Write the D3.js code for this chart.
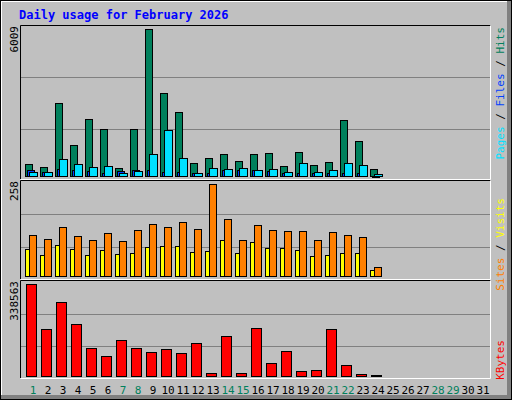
<!DOCTYPE html>
<html>
<head>
<meta charset="utf-8">
<script src="https://cdn.jsdelivr.net/npm/d3@7"></script>
<style>
  body { margin: 0; background: #fff; }
  text { font-family: "DejaVu Sans Mono", monospace; }
</style>
</head>
<body>
<div id="node"></div>
<script>
// data
const days = d3.range(1, 32);
const weekends = [1, 7, 8, 14, 15, 21, 22, 28, 29];
const hits  = [478, 355, 2972, 1255, 2318, 1909, 315, 1909, 6009, 3381, 2604, 519, 723, 887, 601, 887, 928, 396, 969, 437, 560, 2277, 1418, 274];
const files = [233, 151, 274, 233, 192, 110, 192, 233, 233, 151, 151, 110, 110, 233, 233, 233, 192, 110, 110, 110, 110, 110, 110, 20];
const pages = [164, 151, 682, 478, 355, 396, 110, 192, 887, 1868, 723, 110, 315, 274, 315, 233, 274, 151, 519, 151, 233, 519, 437, 70];
const visits = [76, 59, 87, 76, 59, 73, 62, 65, 81, 84, 84, 67, 70, 101, 65, 95, 79, 79, 73, 56, 59, 65, 65, 17];
const sites  = [115, 104, 137, 112, 101, 121, 98, 129, 146, 137, 151, 132, 258, 160, 101, 143, 129, 126, 126, 101, 123, 115, 109, 25];
const kbytes = [338563, 171752, 271838, 190287, 101321, 71666, 130976, 101321, 86494, 97614, 82787, 119855, 8649, 145804, 8649, 175459, 48190, 92672, 18534, 22241, 174223, 40776, 7414, 3700];

const W = 512, H = 400;
const svg = d3.select("#node").append("svg").attr("width", W).attr("height", H);

// frame
svg.append("rect").attr("width", W).attr("height", H).attr("fill", "#c0c0c0");
svg.append("path").attr("d", "M1,399V1H511").attr("stroke", "#fff").attr("stroke-width", 2).attr("fill", "none");
svg.append("path").attr("d", "M1,397H509V1").attr("stroke", "#808080").attr("stroke-width", 4).attr("fill", "none");
svg.append("rect").attr("x", 0.5).attr("y", 0.5).attr("width", W - 1).attr("height", H - 1).attr("fill", "none").attr("stroke", "#000");

svg.append("text").attr("x", 19).attr("y", 19)
  .attr("font-size", 12).attr("font-weight", "bold").attr("fill", "#0000ff")
  .text("Daily usage for February 2026");

const x = d3.scaleLinear().domain([1, 31]).range([25, 475]);

const panels = [
  { top: 25, bottom: 179, base: 176, max: 6009, maxY: 29 },
  { top: 180, bottom: 279, base: 276.3, max: 258, maxY: 184.3 },
  { top: 280, bottom: 378, base: 375.7, max: 338563, maxY: 284.3 }
];

panels.forEach(p => {
  p.y = d3.scaleLinear().domain([0, p.max]).range([p.base, p.maxY]);
  const g = svg.append("g");
  const h = p.bottom - p.top;
  [1, 2].forEach(k => {
    const gy = Math.round(p.top + 1 + h * k / 3);
    g.append("line").attr("x1", 21).attr("x2", 490).attr("y1", gy + 0.5).attr("y2", gy + 0.5)
      .attr("stroke", "#808080");
  });
  g.append("path").attr("d", `M20.5,${p.bottom}V${p.top + 0.5}H490.5`).attr("stroke", "#000").attr("fill", "none");
  g.append("path").attr("d", `M20.5,${p.bottom + 0.5}H490.5V${p.top + 0.5}`).attr("stroke", "#fff").attr("fill", "none");
  g.append("text").attr("transform", `translate(18,${p.top + 1}) rotate(-90)`)
    .attr("text-anchor", "end").attr("font-size", 11).attr("fill", "#000").text(p.max);
});

function bars(vals, p, dx, w, color) {
  svg.append("g").selectAll("rect").data(vals).join("rect")
    .attr("x", (d, i) => x(i + 1) + dx + 0.5)
    .attr("y", d => Math.round(p.y(d)) + 0.5)
    .attr("width", w)
    .attr("height", d => Math.max(1, Math.round(p.base) - Math.round(p.y(d))))
    .attr("fill", color).attr("stroke", "#000");
}

bars(hits, panels[0], 0, 7, "#00805c");
bars(files, panels[0], 2, 7, "#0040ff");
bars(pages, panels[0], 4, 8, "#00e0ff");
bars(visits, panels[1], 0, 5, "#ffff00");
bars(sites, panels[1], 4, 7, "#ff8000");
bars(kbytes, panels[2], 1, 10, "#ff0000");

// day labels
svg.append("g").selectAll("text").data(days).join("text")
  .attr("x", d => x(d) + 8).attr("y", 394)
  .attr("text-anchor", "middle").attr("font-size", 11)
  .attr("fill", d => weekends.includes(d) ? "#00805c" : "#000")
  .text(d => d);

// legends on the right
function legend(parts, topY) {
  const t = svg.append("text").attr("transform", `translate(504,${topY}) rotate(-90)`)
    .attr("text-anchor", "end").attr("font-size", 11);
  parts.forEach(([s, c]) => t.append("tspan").attr("fill", c).text(s));
}
legend([["Pages", "#00e0ff"], [" / ", "#000"], ["Files", "#0040ff"], [" / ", "#000"], ["Hits", "#00805c"]], 27);
legend([["Sites", "#ff8000"], [" / ", "#000"], ["Visits", "#ffff00"]], 198);
legend([["KBytes", "#ff0000"]], 340);
</script>
</body>
</html>
